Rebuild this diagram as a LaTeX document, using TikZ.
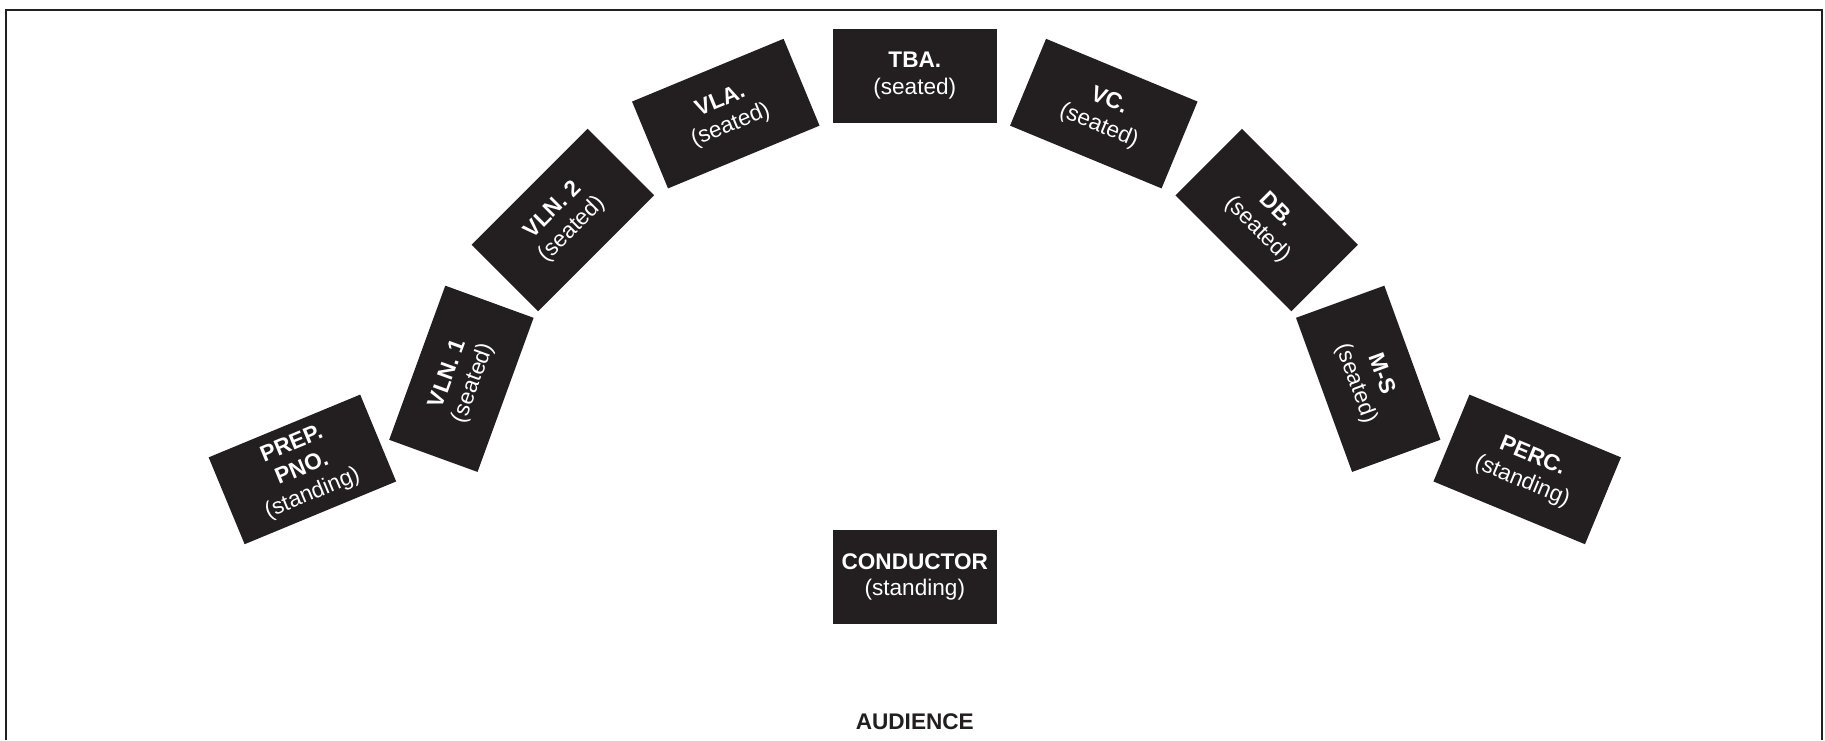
\documentclass[tikz,border=0pt]{standalone}
\usepackage{fontspec}
\setmainfont{Liberation Sans}
\definecolor{ink}{HTML}{231F20}
\begin{document}
\begin{tikzpicture}[x=0.5pt,y=-0.5pt,
  seat/.style={fill=ink, text=white, minimum width=82pt, minimum height=47pt,
    inner sep=0pt, align=center, font=\fontsize{11.3}{13.4}\selectfont},
  frameline/.style={draw=ink, line width=1.1pt}]
\useasboundingbox (0,0) rectangle (1825,740);
\draw[frameline] (6,740) -- (6,10) -- (1822,10) -- (1822,740);
\node[seat, rotate=22.5] (prep) at (302.4,469.4) {\textbf{PREP.}\\\textbf{PNO.}\\(standing)};
\node[seat, rotate=70]   (vln1) at (461.4,378.8) {\textbf{VLN. 1}\\(seated)};
\node[seat, rotate=45]   (vln2) at (562.9,220) {\textbf{VLN. 2}\\(seated)};
\node[seat, rotate=22.5] (vla)  at (725.8,113.6) {\textbf{VLA.}\\(seated)};
\node[seat]              (tba)  at (914.8,75.6) {\textbf{TBA.}\\(seated)};
\node[seat, rotate=-22.5] (vc)  at (1103.8,113.6) {\textbf{VC.}\\(seated)};
\node[seat, rotate=-45]  (db)   at (1266.7,220) {\textbf{DB.}\\(seated)};
\node[seat, rotate=-70]  (ms)   at (1368.2,378.8) {\textbf{M-S}\\(seated)};
\node[seat, rotate=-22.5] (perc) at (1527.2,469.4) {\textbf{PERC.}\\(standing)};
\node[seat]              (cond) at (914.8,577) {\textbf{CONDUCTOR}\\(standing)};
\node[text=ink, inner sep=0pt, font=\fontsize{11.3}{13.4}\selectfont\bfseries] (aud) at (914.8,722) {AUDIENCE};
\end{tikzpicture}
\end{document}
